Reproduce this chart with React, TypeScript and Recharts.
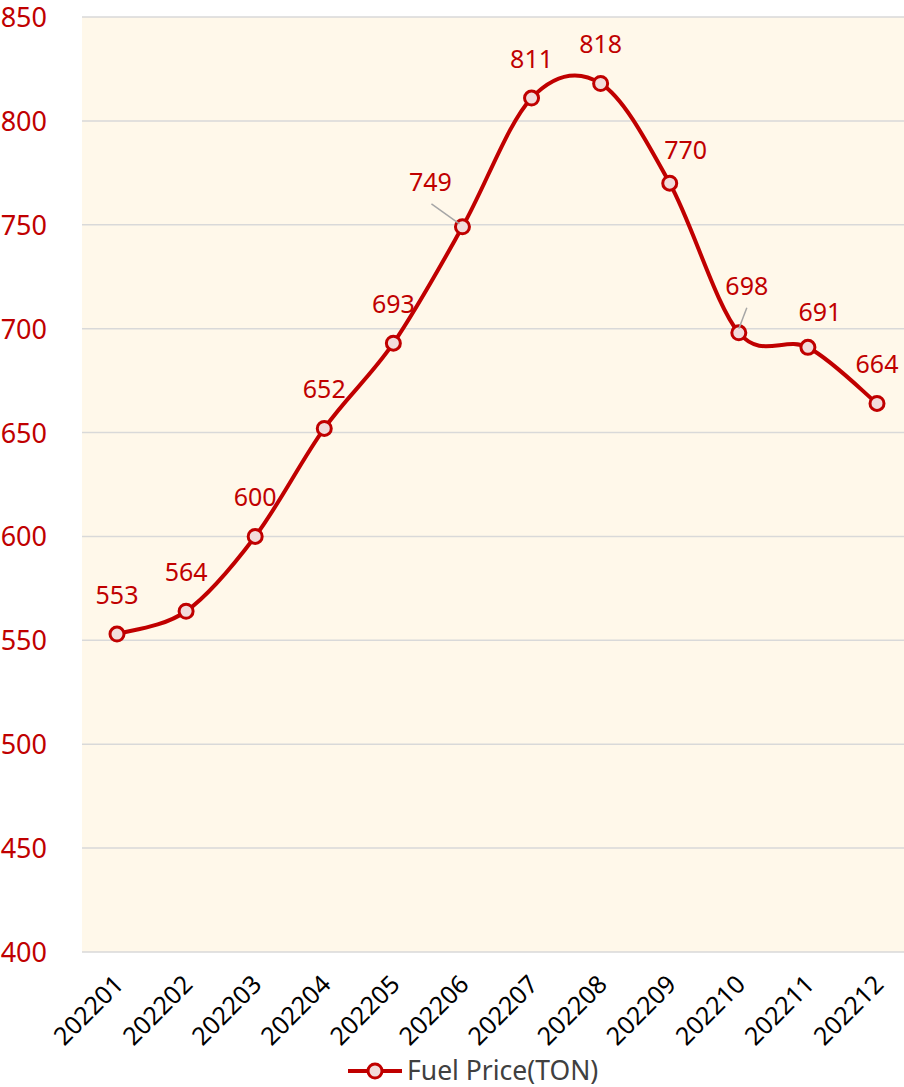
import React from "react";
import { LineChart, Line, XAxis, YAxis, CartesianGrid, LabelList, Legend } from "recharts";

const months = ["202201","202202","202203","202204","202205","202206","202207","202208","202209","202210","202211","202212"];
const prices = [553, 564, 600, 652, 693, 749, 811, 818, 770, 698, 691, 664];
const yTicks = [400, 450, 500, 550, 600, 650, 700, 750, 800, 850];
const seriesName = "Fuel Price(TON)";

const data = months.map((m, i) => ({ month: m, price: prices[i] }));

const RED = "#C00000";
const FONT = "'Noto Sans', 'Open Sans', sans-serif";

// label placement tweaks (dx, dy from point) and leader lines
const labelShift: Record<number, [number, number, boolean]> = {
  5: [-32, -45, true],
  8: [16, -33, false],
  9: [8, -47, true],
  10: [12, -35, false],
};

// Excel-like smoothing curve (Catmull-Rom style Bezier)
function excelCurve(context: any) {
  let pts: number[][] = [];
  return {
    areaStart() {},
    areaEnd() {},
    lineStart() { pts = []; },
    point(x: number, y: number) { pts.push([+x, +y]); },
    lineEnd() {
      if (!pts.length) return;
      context.moveTo(pts[0][0], pts[0][1]);
      for (let i = 0; i < pts.length - 1; i++) {
        const p0 = pts[i - 1] || pts[i];
        const p1 = pts[i];
        const p2 = pts[i + 1];
        const p3 = pts[i + 2] || pts[i + 1];
        const c1x = p1[0] + (p2[0] - p0[0]) / 6;
        const c1y = p1[1] + (p2[1] - p0[1]) / 6;
        const c2x = p2[0] - (p3[0] - p1[0]) / 6;
        const c2y = p2[1] - (p3[1] - p1[1]) / 6;
        context.bezierCurveTo(c1x, c1y, c2x, c2y, p2[0], p2[1]);
      }
    },
  };
}

const YTick = (props: any) => {
  const { x, y, payload } = props;
  return (
    <text x={x} y={y} dy={10} textAnchor="end" fill={RED} fontSize={27} fontFamily={FONT}>
      {payload.value}
    </text>
  );
};

const XTick = (props: any) => {
  const { x, y, payload } = props;
  return (
    <g transform={`translate(${x},${y})`}>
      <text x={0} y={0} textAnchor="end" transform="translate(8,26) rotate(-45)" fill="#000" fontSize={25} fontFamily={FONT}>
        {payload.value}
      </text>
    </g>
  );
};

const DataLabel = (props: any) => {
  const { x, y, value, index } = props;
  const s = labelShift[index] || [0, -39, false];
  const lx = x + s[0];
  const ly = y + s[1];
  return (
    <g>
      {s[2] && (
        <line
          x1={index === 5 ? lx + 1 : lx}
          y1={ly + 22}
          x2={x - (index === 5 ? 3 : 0)}
          y2={y - (index === 5 ? 3 : 4)}
          stroke="#A6A6A6"
          strokeWidth={1.5}
        />
      )}
      <text x={lx} y={ly} dy={9} textAnchor="middle" fill={RED} fontSize={25} fontFamily={FONT}>
        {value}
      </text>
    </g>
  );
};

const LegendContent = () => (
  <svg width={912} height={40}>
    <line x1={348} y1={24} x2={402} y2={24} stroke={RED} strokeWidth={4} />
    <circle cx={375} cy={24} r={7} fill="#F2DCDB" stroke={RED} strokeWidth={3} />
    <text x={407} y={24} dy={9} fill="#404040" fontSize={26.5} fontFamily={FONT}>{seriesName}</text>
  </svg>
);

export default function App() {
  return (
    <div style={{ position: "absolute", left: 0, top: 0, width: 904, height: 1087, overflow: "hidden", background: "#fff" }}>
      <LineChart width={912} height={1087} data={data} margin={{ top: 17, right: 0, left: 0, bottom: 0 }}>
        <CartesianGrid vertical={false} stroke="#D9D9D9" strokeWidth={1.5} fill="#FFF8EA" />
        <XAxis
          dataKey="month"
          axisLine={false}
          tickLine={false}
          interval={0}
          height={95}
          padding={{ left: 35, right: 35 }}
          tick={<XTick />}
        />
        <YAxis
          domain={[400, 850]}
          ticks={yTicks}
          width={82}
          axisLine={false}
          tickLine={false}
          tickSize={0}
          tickMargin={35}
          tick={<YTick />}
          interval={0}
        />
        <Legend verticalAlign="bottom" height={40} wrapperStyle={{ left: 0, width: 912 }} content={<LegendContent />} />
        <Line
          dataKey="price"
          name={seriesName}
          type={excelCurve as any}
          stroke={RED}
          strokeWidth={4}
          dot={{ r: 7, fill: "#F2DCDB", stroke: RED, strokeWidth: 3 }}
          activeDot={false}
          isAnimationActive={false}
        >
          <LabelList dataKey="price" content={<DataLabel />} />
        </Line>
      </LineChart>
    </div>
  );
}
